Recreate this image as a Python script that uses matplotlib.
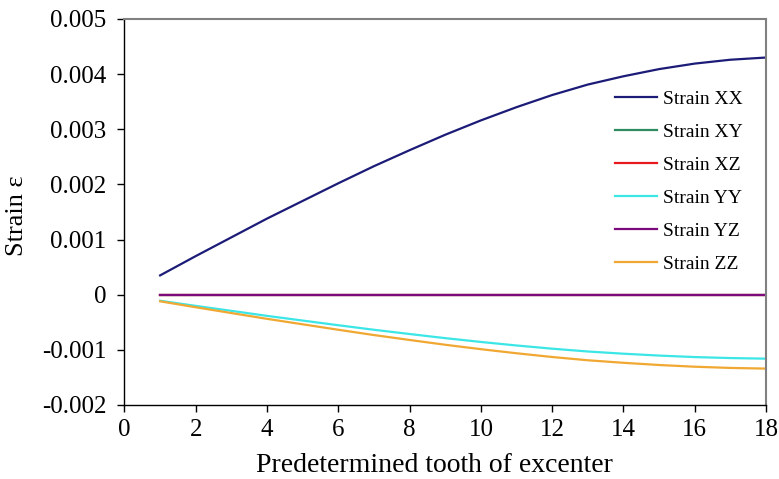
import matplotlib.pyplot as plt

plt.rcParams['font.family'] = ['Liberation Serif', 'DejaVu Serif']

teeth = list(range(1, 19))

strain_xx = [0.00035, 0.00070, 0.00104, 0.00138, 0.00170, 0.00202, 0.00233, 0.00262,
             0.00290, 0.00316, 0.00340, 0.00362, 0.00381, 0.00396, 0.00409, 0.00419,
             0.00426, 0.00430]
strain_xy = [0.0] * 18
strain_xz = [0.0] * 18
strain_yy = [-0.000110, -0.000203, -0.000293, -0.000384, -0.000469, -0.000554,
             -0.000636, -0.000713, -0.000788, -0.000857, -0.000921, -0.000979,
             -0.001030, -0.001070, -0.001104, -0.001131, -0.001149, -0.001160]
strain_yz = [0.0] * 18
strain_zz = [-0.000120, -0.000228, -0.000333, -0.000438, -0.000537, -0.000636,
             -0.000732, -0.000821, -0.000908, -0.000988, -0.001062, -0.001130,
             -0.001189, -0.001235, -0.001275, -0.001306, -0.001328, -0.001340]

series = [
    ('Strain XX', strain_xx, '#1c1c78'),
    ('Strain XY', strain_xy, '#2e8b62'),
    ('Strain XZ', strain_xz, '#e8191c'),
    ('Strain YY', strain_yy, '#3ce6e6'),
    ('Strain YZ', strain_yz, '#7d0a7d'),
    ('Strain ZZ', strain_zz, '#f0a832'),
]

fig = plt.figure(figsize=(7.79, 4.79), dpi=100)
ax = fig.add_axes([0.1598, 0.1545, 0.8235, 0.806])

for label, values, color in series:
    ax.plot(teeth, values, color=color, linewidth=1.6, label=label)

ax.set_xlim(0, 18)
ax.set_ylim(-0.002, 0.005)
ax.set_xticks(range(0, 19, 2))
ax.set_yticks([-0.002, -0.001, 0, 0.001, 0.002, 0.003, 0.004, 0.005])
ax.set_yticklabels(['-0.002', '-0.001', '0', '0.001', '0.002', '0.003', '0.004', '0.005'])

ax.tick_params(direction='out', length=5, width=1, labelsize=18, colors='black')
ax.tick_params(axis='y', pad=8)
ax.tick_params(axis='x', pad=5)

for side in ('top', 'right'):
    ax.spines[side].set_color('#808080')
    ax.spines[side].set_linewidth(1.5)
for side in ('left', 'bottom'):
    ax.spines[side].set_color('black')
    ax.spines[side].set_linewidth(1)

ax.set_xlabel('Predetermined tooth of excenter', fontsize=20)
ax.xaxis.set_label_coords(0.4825, -0.125)
ax.set_ylabel('Strain ε', fontsize=19)
ax.yaxis.set_label_coords(-0.15, 0.49)

ax.legend(loc='upper left', bbox_to_anchor=(0.779, 0.828), bbox_transform=fig.transFigure,
          frameon=False, fontsize=14, handlelength=2.2, handletextpad=0.3,
          labelspacing=0.79, borderaxespad=0)

fig.savefig('out.png', dpi=100)
